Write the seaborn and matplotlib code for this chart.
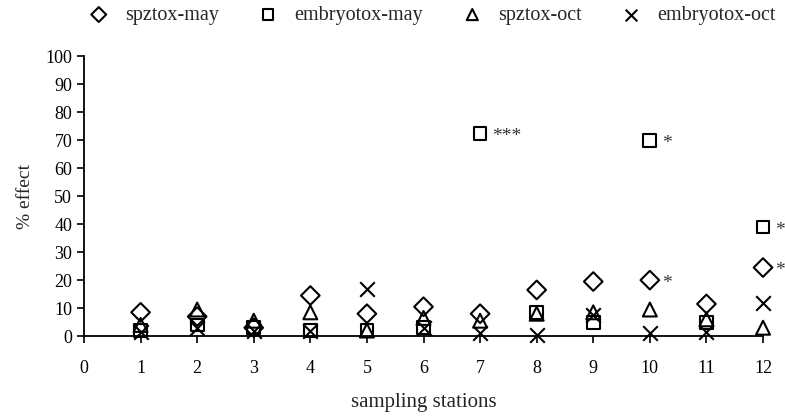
import pandas as pd
import numpy as np
import matplotlib
matplotlib.use("Agg")
import matplotlib.pyplot as plt
import seaborn as sns

# data
stations = [1, 2, 3, 4, 5, 6, 7, 8, 9, 10, 11, 12]
spztox_may = [8.5, 7, 3, 14.5, 8, 10.5, 8, 16.5, 19.5, 20, 11.5, 24.5]
embryotox_may = [2, 4, 3, 2, 2, 3, 72.5, 8.5, 5, 70, 5, 39]
spztox_oct = [4, 9.5, 5.5, 8.5, 2, 6.5, 5.5, 8, 8.5, 9.5, 6, 3]
embryotox_oct = [1.5, 3, 2, 2, 17, 3, 1, 0.5, 7.5, 1, 1.5, 12]

# significance stars: (station, value, text)
stars = [(7, 72.5, "***"), (10, 70, "*"), (10, 20, "*"), (12, 39, "*"), (12, 24.5, "*")]

sns.set_style("white")
plt.rcParams["font.family"] = ["Liberation Serif", "DejaVu Serif"]

fig = plt.figure(figsize=(7.85, 4.16), dpi=100)
ax = fig.add_axes([0.107, 0.192, 0.865, 0.673])

series = [
    ("spztox-may", spztox_may, "D", 90),
    ("embryotox-may", embryotox_may, "s", 85),
    ("spztox-oct", spztox_oct, "^", 100),
    ("embryotox-oct", embryotox_oct, "x", 110),
]
for name, vals, mk, size in series:
    if mk == "x":
        sns.scatterplot(x=stations, y=vals, marker=mk, s=size, color="black",
                        linewidth=1.5, label=name, ax=ax, zorder=3, clip_on=False)
    else:
        sns.scatterplot(x=stations, y=vals, marker=mk, s=size, facecolor="none",
                        edgecolor="black", linewidth=1.5, label=name, ax=ax, zorder=3,
                        clip_on=False)

for st, v, txt in stars:
    ax.text(st + 0.22, v - 1.2, txt, fontsize=14, va="center", ha="left", color="#333333")

ax.set_xlim(0, 12)
ax.set_ylim(0, 100)
ax.set_xticks(range(0, 13))
ax.set_yticks(range(0, 101, 10))
ax.tick_params(axis="both", labelsize=13, direction="out", length=5, width=1.2,
               bottom=True, left=True, colors="black")
ax.tick_params(axis="x", pad=12)
for s in ["top", "right"]:
    ax.spines[s].set_visible(False)
for s in ["left", "bottom"]:
    ax.spines[s].set_color("black")
    ax.spines[s].set_linewidth(1.3)

ax.set_xlabel("sampling stations", fontsize=15, labelpad=12)
ax.set_ylabel("% effect", fontsize=14, labelpad=8)

leg = ax.legend(loc="center", bbox_to_anchor=(0.513, 1.146), ncol=4, frameon=False,
                fontsize=14.5, handlelength=1.0, handletextpad=0.8, columnspacing=1.95,
                markerscale=0.8, borderaxespad=0, borderpad=0)

plt.savefig("out.png", dpi=100)
